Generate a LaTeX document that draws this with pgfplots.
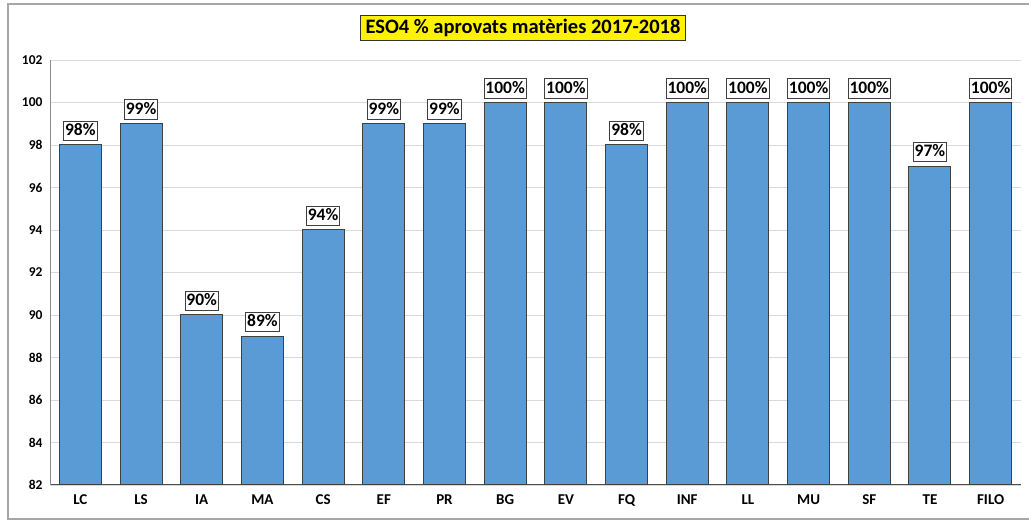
\documentclass[border=0pt]{standalone}
\usepackage{pgfplots}
\pgfplotsset{compat=1.18}
\usepackage{fontspec}
\setmainfont{Carlito}
\definecolor{barblue}{HTML}{5B9BD5}
\definecolor{framegray}{HTML}{A6A6A6}
\begin{document}
\begin{tikzpicture}[x=1pt,y=1pt]
\useasboundingbox (0,0) rectangle (1029,522);
% outer chart frame
\draw[framegray, line width=1.5pt] (1029,518) -- (8,518) -- (8,3) -- (1029,3);
\begin{axis}[
    at={(50pt,37pt)}, anchor=south west,
    scale only axis,
    width=971pt, height=425pt,
    ymin=82, ymax=102,
    xmin=-0.5, xmax=15.5,
    ytick={82,84,...,102},
    xtick={0,...,15},
    xticklabels={LC,LS,IA,MA,CS,EF,PR,BG,EV,FQ,INF,LL,MU,SF,TE,FILO},
    axis x line*=bottom, axis y line*=left,
    x axis line style={black!70, line width=1pt, -},
    y axis line style={black!45, line width=1pt, -},
    major tick length=0pt,
    ymajorgrids, grid style={black!15, line width=0.8pt},
    yticklabel style={font=\fontsize{13.5}{13.5}\selectfont\bfseries, xshift=-4pt},
    xticklabel style={font=\fontsize{15}{15}\selectfont\bfseries, yshift=-6pt},
    /pgf/number format/assume math mode=true,
    ybar, bar width=42pt,
    nodes near coords={\pgfmathprintnumber{\pgfplotspointmeta}\%},
    every node near coord/.append style={font=\fontsize{17.5}{17.5}\selectfont\bfseries,
        draw=black!75, fill=white, inner xsep=1.5pt, inner ysep=2pt,
        text height=12.5pt, text depth=3pt, line width=0.8pt, yshift=4pt},
]
\addplot[fill=barblue, draw=black!75, line width=1pt] coordinates {
    (0,98) (1,99) (2,90) (3,89) (4,94) (5,99) (6,99) (7,100)
    (8,100) (9,98) (10,100) (11,100) (12,100) (13,100) (14,97) (15,100)
};
\end{axis}
\node[fill=yellow, draw=black!80, line width=1pt, inner xsep=5pt, inner ysep=4pt,
      font=\fontsize{20.5}{20.5}\selectfont\bfseries] at (523,494) {ESO4 \% aprovats matèries 2017-2018};
\end{tikzpicture}
\end{document}
